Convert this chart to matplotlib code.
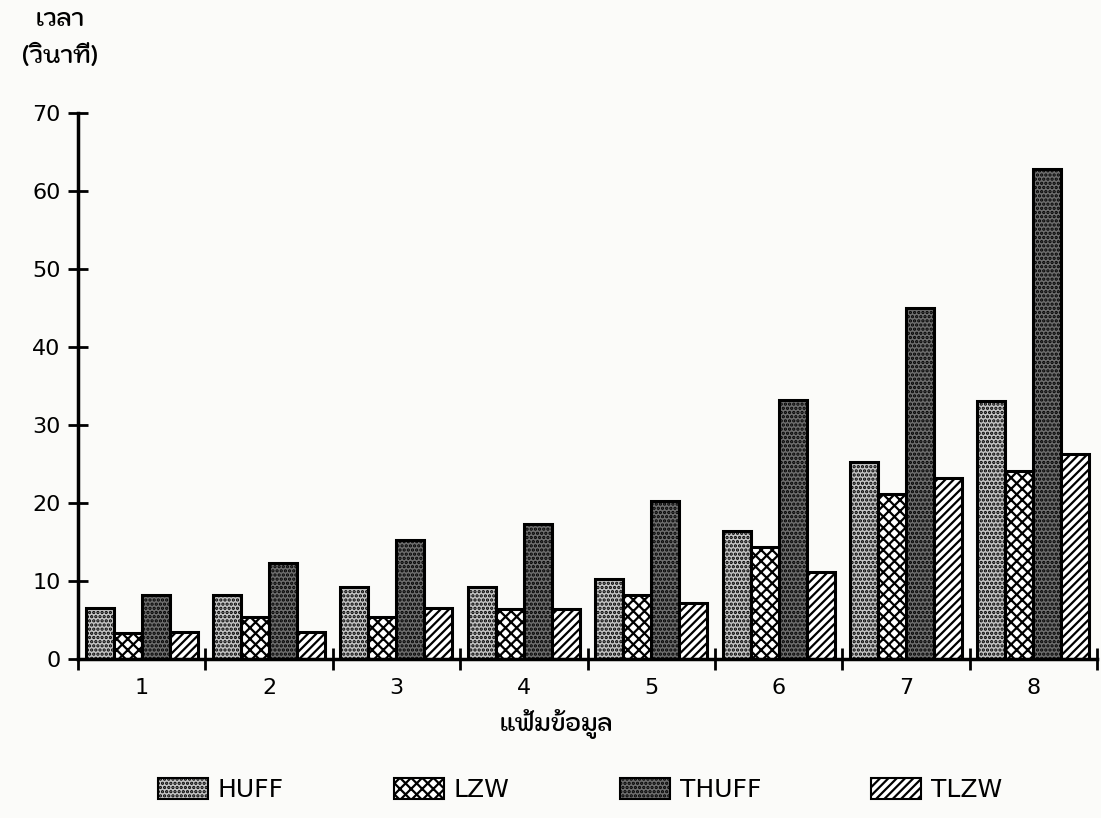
import matplotlib
matplotlib.use("Agg")
import matplotlib.pyplot as plt
import numpy as np
from matplotlib.patches import Patch
from matplotlib import font_manager

categories = ["1", "2", "3", "4", "5", "6", "7", "8"]
huff = [6.5, 8.2, 9.2, 9.2, 10.3, 16.4, 25.3, 33.1]
lzw = [3.3, 5.4, 5.4, 6.4, 8.2, 14.4, 21.2, 24.1]
thuff = [8.2, 12.3, 15.2, 17.3, 20.3, 33.2, 45.0, 62.8]
tlzw = [3.4, 3.5, 6.5, 6.4, 7.2, 11.2, 23.2, 26.3]
series_names = ["HUFF", "LZW", "THUFF", "TLZW"]
yticks = [0, 10, 20, 30, 40, 50, 60, 70]

plt.rcParams['font.family'] = ['DejaVu Sans']
plt.rcParams['hatch.linewidth'] = 1.6
avail = {f.name for f in font_manager.fontManager.ttflist}
thai_fonts = [f for f in ['Kodchasan', 'Sarabun', 'Niramit', 'Athiti', 'Bai Jamjuree'] if f in avail] + ['DejaVu Sans']

fig = plt.figure(figsize=(11.01, 8.18), dpi=100)
fig.patch.set_facecolor('#fbfbf9')
ax = fig.add_axes([78/1101, (818-659)/818, (1097-78)/1101, (659-113)/818])
ax.set_facecolor('none')

styles = [
    dict(facecolor='#c4c4c4', hatch='....'),
    dict(facecolor='white', hatch='xxx'),
    dict(facecolor='#6e6e6e', hatch='....'),
    dict(facecolor='white', hatch='////'),
]
data = [huff, lzw, thuff, tlzw]
w = 0.22
x = np.arange(len(categories)) + 0.5
for i, (vals, st) in enumerate(zip(data, styles)):
    ax.bar(x + (i - 1.5) * w, vals, width=w, edgecolor='black', linewidth=2.2,
           label=series_names[i], **st)

ax.set_xlim(0, 8)
ax.set_ylim(0, 70)
ax.set_yticks(yticks)
ax.set_yticklabels([str(v) for v in yticks], fontsize=16)
ax.set_xticks(np.arange(0, 9))
ax.set_xticklabels([])
ax.set_xticks(x, minor=True)
ax.set_xticklabels(categories, minor=True, fontsize=16)
ax.tick_params(axis='y', direction='inout', length=15, width=2, pad=5)
ax.tick_params(axis='x', which='major', direction='inout', length=16, width=2)
ax.tick_params(axis='x', which='minor', length=0, pad=14)
for s in ['top', 'right']:
    ax.spines[s].set_visible(False)
for s in ['left', 'bottom']:
    ax.spines[s].set_linewidth(2.5)

fig.text(60/1101, 1 - 20/818, 'เวลา', ha='center', va='center', fontsize=17,
         fontweight='semibold', family=thai_fonts)
fig.text(60/1101, 1 - 57/818, '(วินาที)', ha='center', va='center', fontsize=17,
         fontweight='semibold', family=thai_fonts)
fig.text(556/1101, 1 - 724/818, 'แฟ้มข้อมูล', ha='center', va='center', fontsize=17,
         fontweight='semibold', family=thai_fonts)

handles = [Patch(edgecolor='black', linewidth=1.5, **st) for st in styles]
fig.legend(handles, series_names, loc='center', bbox_to_anchor=(580/1101, 1 - 790/818),
           ncol=4, frameon=False, fontsize=18, handlelength=2.0, handleheight=0.9,
           columnspacing=4.4, handletextpad=0.4)

fig.savefig('out.png', dpi=100, facecolor=fig.get_facecolor())
